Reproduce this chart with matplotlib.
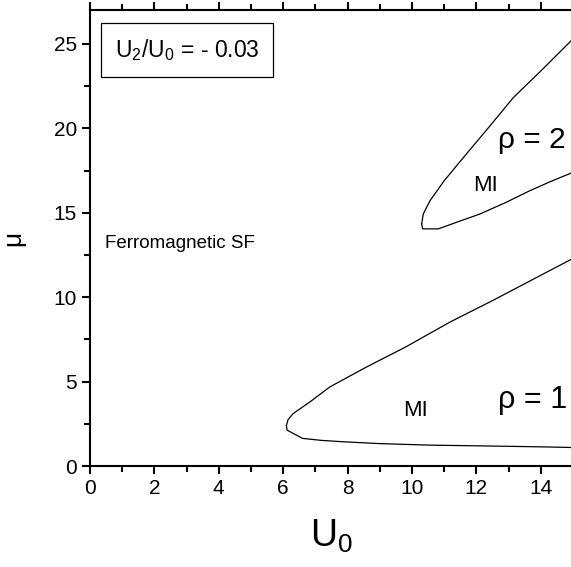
import matplotlib.pyplot as plt
from matplotlib.ticker import MultipleLocator

plt.rcParams["font.family"] = ["Liberation Sans", "DejaVu Sans"]
plt.rcParams["mathtext.fontset"] = "custom"
plt.rcParams["mathtext.rm"] = "Liberation Sans"
plt.rcParams["mathtext.it"] = "Liberation Sans"

# rho = 1 Mott lobe boundary (upper branch from tip to right edge, then lower branch)
rho1_upper_x = [6.10, 6.15, 6.31, 6.83, 7.45, 8.59, 9.8, 11.18, 12.5, 13.8, 15.0]
rho1_upper_y = [2.40, 2.75, 3.11, 3.80, 4.69, 5.87, 7.05, 8.53, 9.80, 11.10, 12.30]
rho1_lower_x = [6.10, 6.12, 6.6, 7.2, 7.86, 9.0, 10.56, 12.0, 13.98, 15.0]
rho1_lower_y = [2.40, 2.13, 1.64, 1.52, 1.44, 1.33, 1.24, 1.20, 1.14, 1.10]

# rho = 2 Mott lobe boundary
rho2_upper_x = [10.30, 10.35, 10.56, 11.0, 11.6, 12.4, 13.15, 14.0, 15.0]
rho2_upper_y = [14.34, 14.93, 15.72, 16.90, 18.28, 20.10, 21.83, 23.40, 25.30]
rho2_lower_x = [10.30, 10.33, 10.82, 11.4, 12.11, 12.9, 13.66, 14.3, 15.0]
rho2_lower_y = [14.34, 14.05, 14.05, 14.45, 14.93, 15.60, 16.31, 16.85, 17.40]

fig = plt.figure(figsize=(5.71, 5.67), dpi=100)
ax = fig.add_axes([0.1576, 0.178, 0.8459, 0.804])

for xs, ys in [(rho1_upper_x, rho1_upper_y), (rho1_lower_x, rho1_lower_y),
               (rho2_upper_x, rho2_upper_y), (rho2_lower_x, rho2_lower_y)]:
    ax.plot(xs, ys, color="black", lw=0.9)

ax.set_xlim(0, 15)
ax.set_ylim(0, 27)
ax.xaxis.set_major_locator(MultipleLocator(2))
ax.xaxis.set_minor_locator(MultipleLocator(1))
ax.yaxis.set_major_locator(MultipleLocator(5))
ax.yaxis.set_minor_locator(MultipleLocator(2.5))
ax.tick_params(which="major", direction="out", length=6, width=1.5, labelsize=15)
ax.tick_params(which="minor", direction="out", length=4, width=1.5)
ax.tick_params(axis="x", which="both", top=True)
ax.tick_params(axis="x", which="both", labeltop=False)
for s in ax.spines.values():
    s.set_linewidth(1.5)

ax.set_xlabel("U$_0$", fontsize=27, labelpad=14)
ax.set_ylabel("μ", fontsize=19, labelpad=20)

ax.text(0.47, 13.2, "Ferromagnetic SF", fontsize=13.5, va="center")
ax.text(10.1, 3.3, "MI", fontsize=16, ha="center", va="center")
ax.text(13.75, 3.9, "ρ = 1", fontsize=22, ha="center", va="center")
ax.text(12.27, 16.6, "MI", fontsize=16, ha="center", va="center")
ax.text(13.72, 19.3, "ρ = 2", fontsize=21.5, ha="center", va="center")
ax.text(0.78, 24.65, "U$_2$/U$_0$ = - 0.03", fontsize=16.5, va="center",
        bbox=dict(boxstyle="square,pad=0.6", fc="white", ec="black", lw=0.9))

fig.savefig("out.png", dpi=100)
